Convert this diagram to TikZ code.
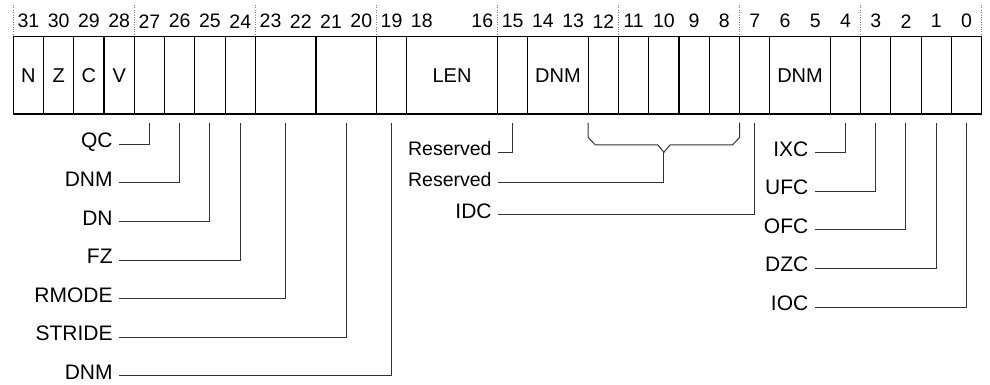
\documentclass[tikz,border=0pt]{standalone}
\usepackage{fontspec}
\setmainfont{Liberation Sans}
\usetikzlibrary{positioning,calc}

\newcommand\bitw{30.26}

\begin{document}
\begin{tikzpicture}[
  x=1pt, y=-1pt,
  field/.style={draw, line width=1.2pt, minimum height=77.3pt, inner sep=0pt, outer sep=0pt, font=\fontsize{20}{20}\selectfont},
  wd/.style={minimum width=#1*\bitw pt},
  bitnum/.style={font=\fontsize{19.5}{19.5}\selectfont, inner sep=0pt},
  lbl/.style={anchor=east, inner xsep=6.5pt, inner ysep=0pt, text height=0.716em, text depth=0pt, font=\fontsize{21}{21}\selectfont},
  small/.style={lbl, font=\fontsize{19.5}{19.5}\selectfont},
  conn/.style={line width=1pt, black!80}
]
\useasboundingbox (0,0) rectangle (990,385);

% Bit numbers and group markers
\foreach \i in {0,...,16,18,19,...,31}
  \node[bitnum] (n\i) at ({13.3+(31-\i+0.5)*\bitw},21.2) {\i};
\foreach \k in {0,4,...,32}
  \draw[dotted, gray] ({13.3+\k*\bitw},5) -- ({13.3+\k*\bitw},36.7);

% Register fields
\node[field, wd=1, anchor=north west] (f31) at (13.3,36.7) {N};
\node[field, wd=1, right=0pt of f31] (f30) {Z};
\node[field, wd=1, right=0pt of f30] (f29) {C};
\node[field, wd=1, right=0pt of f29] (f28) {V};
\node[field, wd=1, right=0pt of f28] (f27) {};
\node[field, wd=1, right=0pt of f27] (f26) {};
\node[field, wd=1, right=0pt of f26] (f25) {};
\node[field, wd=1, right=0pt of f25] (f24) {};
\node[field, wd=2, right=0pt of f24] (f23) {};
\node[field, wd=2, right=0pt of f23] (f21) {};
\node[field, wd=1, right=0pt of f21] (f19) {};
\node[field, wd=3, right=0pt of f19] (f18) {LEN};
\node[field, wd=1, right=0pt of f18] (f15) {};
\node[field, wd=2, right=0pt of f15] (f14) {DNM};
\node[field, wd=1, right=0pt of f14] (f12) {};
\node[field, wd=1, right=0pt of f12] (f11) {};
\node[field, wd=1, right=0pt of f11] (f10) {};
\node[field, wd=1, right=0pt of f10] (f9) {};
\node[field, wd=1, right=0pt of f9] (f8) {};
\node[field, wd=1, right=0pt of f8] (f7) {};
\node[field, wd=2, right=0pt of f7] (f6) {DNM};
\node[field, wd=1, right=0pt of f6] (f4) {};
\node[field, wd=1, right=0pt of f4] (f3) {};
\node[field, wd=1, right=0pt of f3] (f2) {};
\node[field, wd=1, right=0pt of f2] (f1) {};
\node[field, wd=1, right=0pt of f1] (f0) {};

% Left labels
\node[lbl] (lQC) at (119.3,144.3) {QC};
\node[lbl] (lDNMa) at (119.3,182.9) {DNM};
\node[lbl] (lDN) at (119.3,221.5) {DN};
\node[lbl] (lFZ) at (119.3,260.1) {FZ};
\node[lbl] (lRMODE) at (119.3,298.7) {RMODE};
\node[lbl] (lSTRIDE) at (119.3,337.3) {STRIDE};
\node[lbl] (lDNMb) at (119.3,375.9) {DNM};

% Middle labels
\node[small] (lResa) at (498.3,152.3) {Reserved};
\node[small] (lResb) at (498.3,182.7) {Reserved};
\node[lbl] (lIDC) at (498.3,214.5) {IDC};

% Right labels
\node[lbl] (lIXC) at (815,152.7) {IXC};
\node[lbl] (lUFC) at (815,191.2) {UFC};
\node[lbl] (lOFC) at (815,229.8) {OFC};
\node[lbl] (lDZC) at (815,268.4) {DZC};
\node[lbl] (lIOC) at (815,307) {IOC};

% Connectors
\draw[conn] ([yshift=-8.7pt]f27.south) |- (lQC.east);
\draw[conn] ([yshift=-8.7pt]f26.south) |- (lDNMa.east);
\draw[conn] ([yshift=-8.7pt]f25.south) |- (lDN.east);
\draw[conn] ([yshift=-8.7pt]f24.south) |- (lFZ.east);
\draw[conn] ([yshift=-8.7pt]f23.south) |- (lRMODE.east);
\draw[conn] ([yshift=-8.7pt]f21.south) |- (lSTRIDE.east);
\draw[conn] ([yshift=-8.7pt]f19.south) |- (lDNMb.east);
\draw[conn] ([yshift=-8.7pt]f15.south) |- (lResa.east);
\draw[conn] ([yshift=-8.7pt]f7.south) |- (lIDC.east);
\draw[conn] ([yshift=-8.7pt]f4.south) |- (lIXC.east);
\draw[conn] ([yshift=-8.7pt]f3.south) |- (lUFC.east);
\draw[conn] ([yshift=-8.7pt]f2.south) |- (lOFC.east);
\draw[conn] ([yshift=-8.7pt]f1.south) |- (lDZC.east);
\draw[conn] ([yshift=-8.7pt]f0.south) |- (lIOC.east);

% Brace over bits 12..8
\coordinate (bl) at ([yshift=-8.7pt]f12.south west);
\coordinate (br) at ([yshift=-8.7pt]f8.south east);
\coordinate (tip) at ($(bl)!0.5!(br)+(0,29.6)$);
\draw[conn] (bl) -- ++(0,14.8) -- ++(7,7.3) -- ($(tip)+(-6,-7.3)$) -- (tip)
  -- ($(tip)+(6,-7.3)$) -- ($(br)+(-7,22.1)$) -- ($(br)+(0,14.8)$) -- (br);
\draw[conn] (tip) |- (lResb.east);
\end{tikzpicture}
\end{document}
